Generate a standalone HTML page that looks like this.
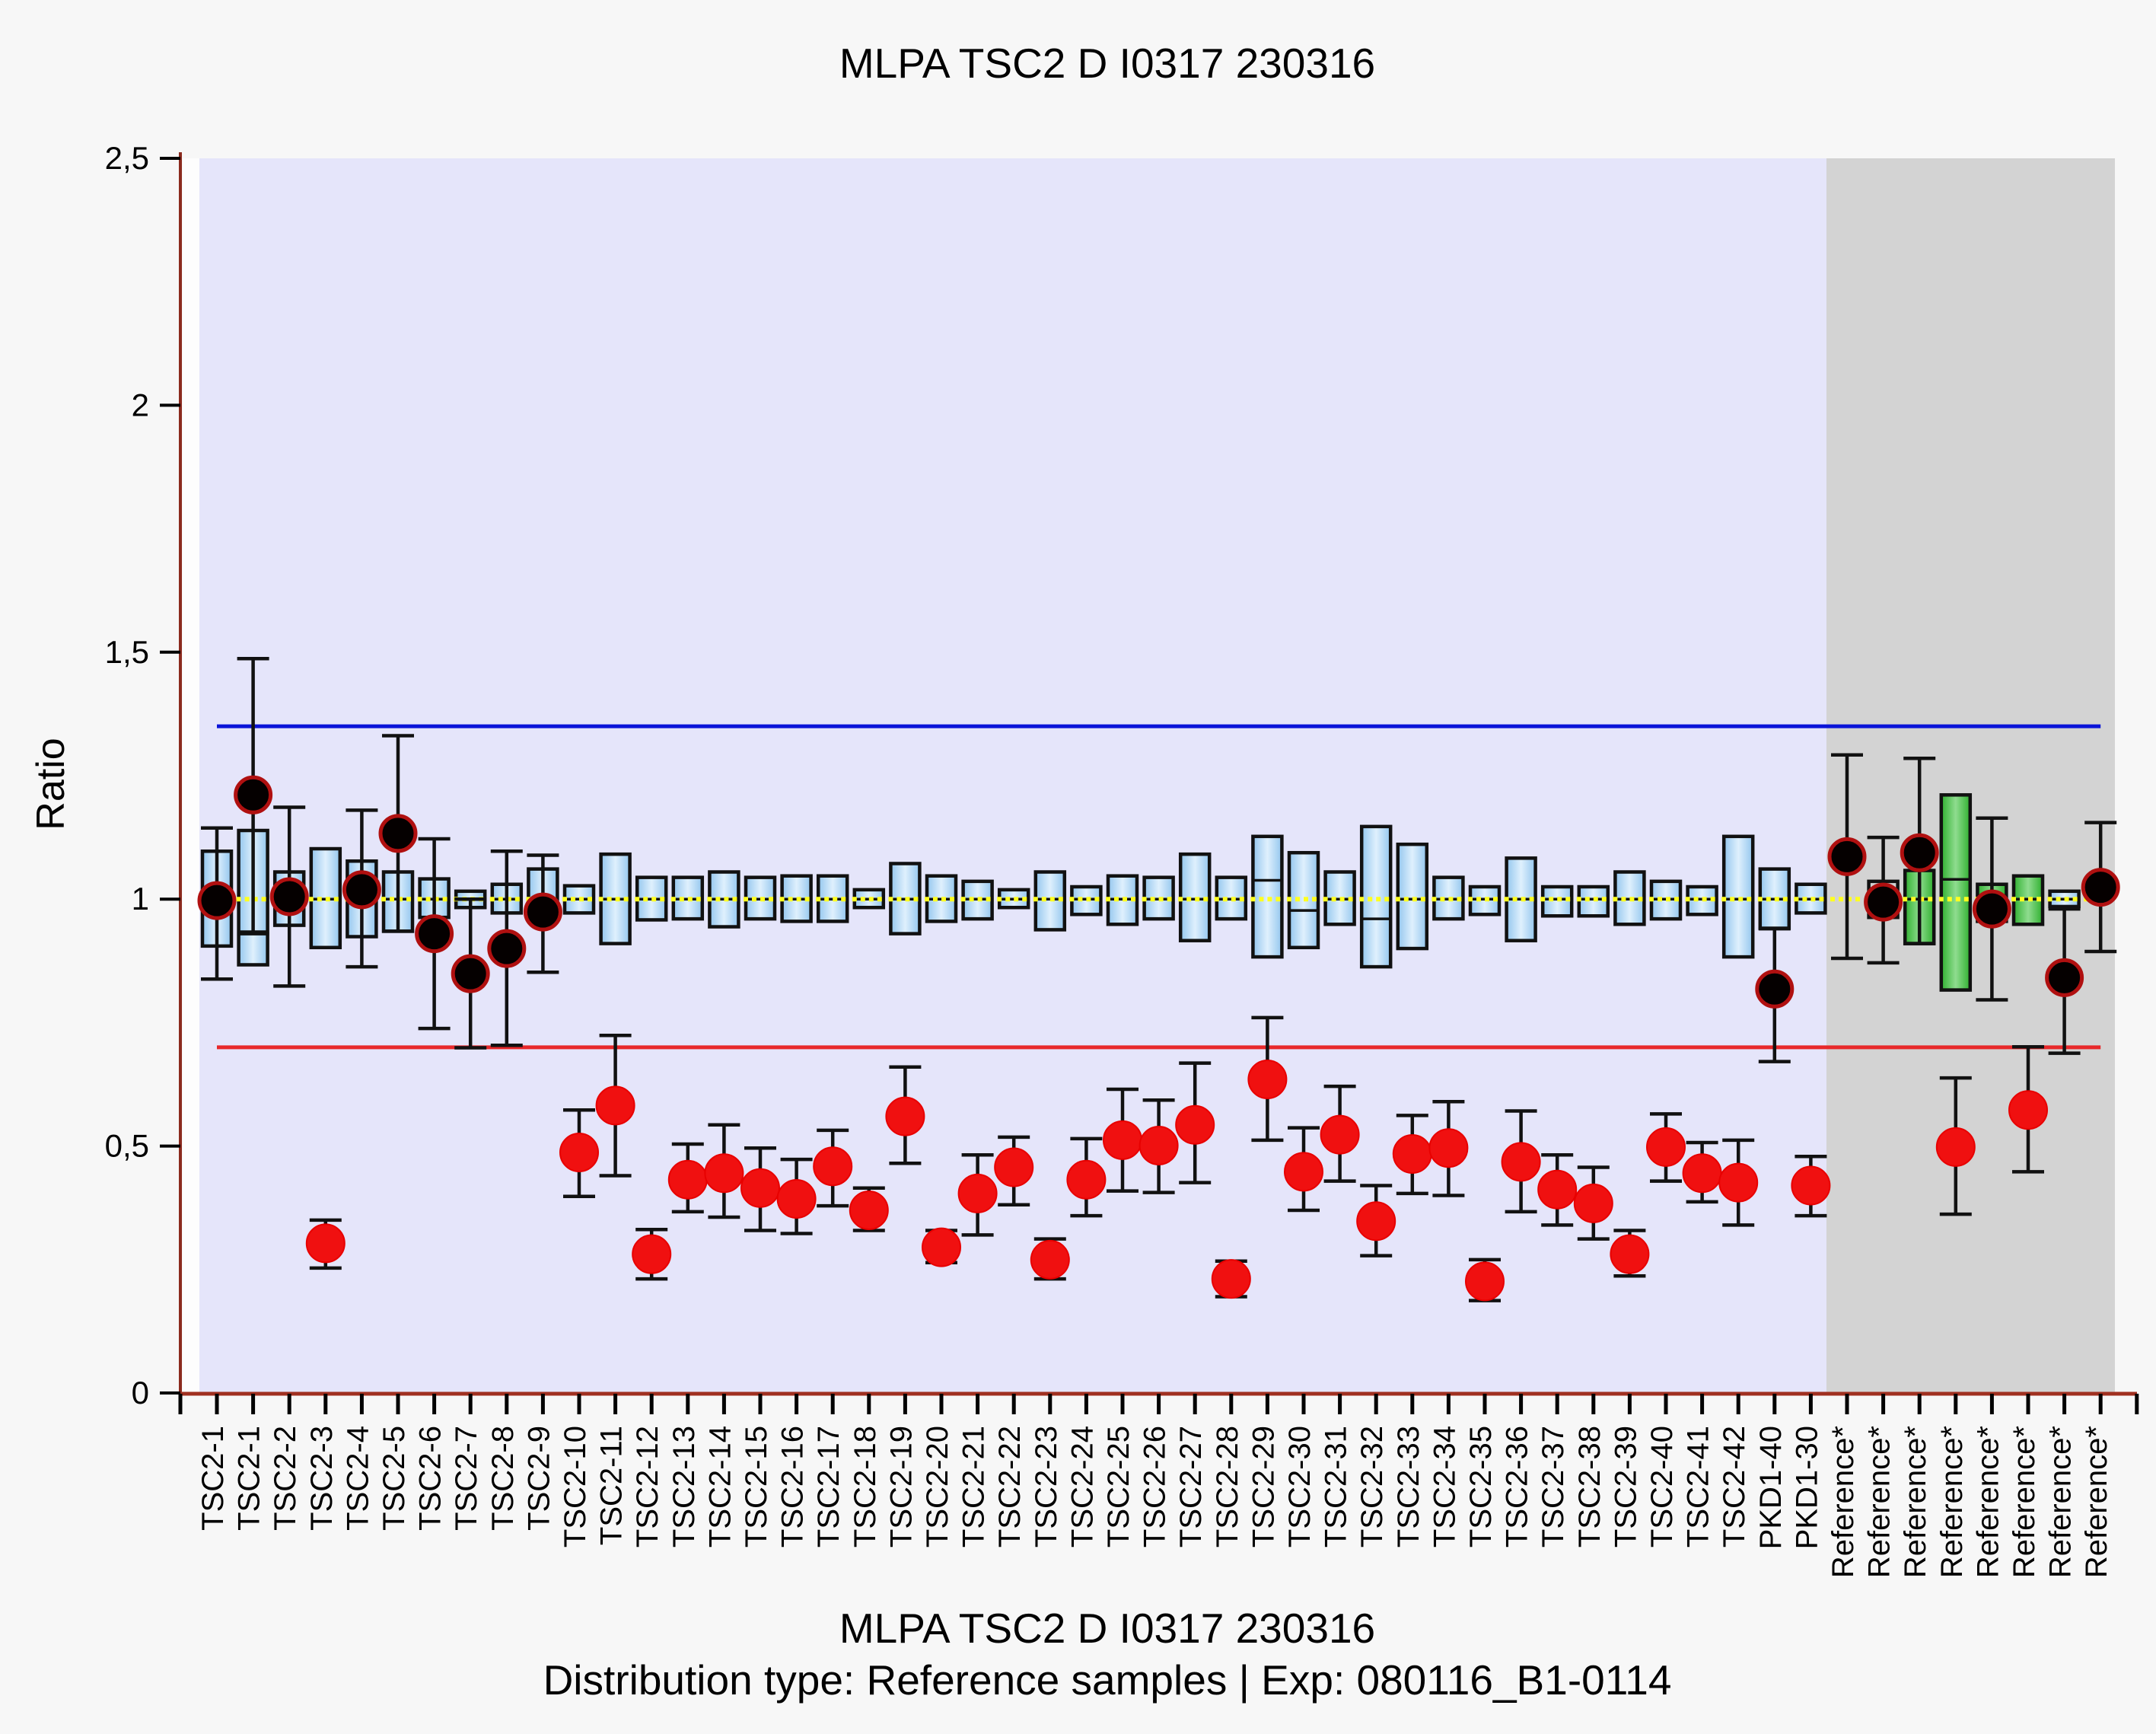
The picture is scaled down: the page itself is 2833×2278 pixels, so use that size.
<!DOCTYPE html>
<html><head><meta charset="utf-8">
<style>
html,body{margin:0;padding:0;background:#f7f7f7;}
svg{display:block;font-family:"Liberation Sans",sans-serif;}
</style></head>
<body>
<svg id="chart" width="2833" height="2278" viewBox="0 0 2833 2278" xmlns="http://www.w3.org/2000/svg">
<defs>
<linearGradient id="gBlue" x1="0" x2="1" y1="0" y2="0"><stop offset="0" stop-color="#93c6ee"/><stop offset="0.5" stop-color="#dff0fd"/><stop offset="1" stop-color="#93c6ee"/></linearGradient>
<linearGradient id="gGreen" x1="0" x2="1" y1="0" y2="0"><stop offset="0" stop-color="#2fb02f"/><stop offset="0.5" stop-color="#8fdc8f"/><stop offset="1" stop-color="#2fb02f"/></linearGradient>
</defs>
<rect x="0" y="0" width="2833" height="2278" fill="#f7f7f7"/>
<text x="1455" y="102" font-size="55" text-anchor="middle" fill="#000">MLPA TSC2 D I0317 230316</text>
<rect x="262" y="208" width="2138" height="1622" fill="#e5e5fa"/>
<rect x="240" y="208" width="22" height="1622" fill="#fdfdfd"/>
<rect x="2400" y="208" width="379" height="1622" fill="#d3d3d3"/>
<g id="yaxis"></g>
<g id="xaxis"></g>
<g id="lines"></g>
<g id="marks"></g>
<text transform="translate(84,1030) rotate(-90)" font-size="52" text-anchor="middle">Ratio</text>
<text x="1455" y="2158" font-size="55" text-anchor="middle">MLPA TSC2 D I0317 230316</text>
<text x="1455" y="2226" font-size="55" text-anchor="middle">Distribution type: Reference samples | Exp: 080116_B1-0114</text>
</svg>
<script>
const categories = ["TSC2-1","TSC2-1","TSC2-2","TSC2-3","TSC2-4","TSC2-5","TSC2-6","TSC2-7","TSC2-8","TSC2-9","TSC2-10","TSC2-11","TSC2-12","TSC2-13","TSC2-14","TSC2-15","TSC2-16","TSC2-17","TSC2-18","TSC2-19","TSC2-20","TSC2-21","TSC2-22","TSC2-23","TSC2-24","TSC2-25","TSC2-26","TSC2-27","TSC2-28","TSC2-29","TSC2-30","TSC2-31","TSC2-32","TSC2-33","TSC2-34","TSC2-35","TSC2-36","TSC2-37","TSC2-38","TSC2-39","TSC2-40","TSC2-41","TSC2-42","PKD1-40","PKD1-30","Reference*","Reference*","Reference*","Reference*","Reference*","Reference*","Reference*","Reference*"];
const ratio = [0.997,1.211,1.005,0.303,1.019,1.133,0.93,0.849,0.9,0.974,0.487,0.582,0.281,0.432,0.445,0.415,0.393,0.459,0.37,0.56,0.295,0.404,0.457,0.27,0.432,0.512,0.501,0.543,0.231,0.635,0.448,0.523,0.348,0.484,0.496,0.226,0.468,0.412,0.384,0.281,0.498,0.445,0.426,0.818,0.42,1.086,0.994,1.094,0.498,0.98,0.573,0.841,1.024];
const errHigh = [1.144,1.487,1.186,0.35,1.18,1.331,1.122,1.0,1.097,1.089,0.573,0.724,0.331,0.504,0.543,0.496,0.473,0.532,0.415,0.66,0.329,0.482,0.518,0.312,0.515,0.615,0.593,0.668,0.267,0.76,0.537,0.621,0.42,0.562,0.59,0.27,0.571,0.482,0.457,0.329,0.565,0.507,0.512,0.94,0.479,1.292,1.125,1.285,0.638,1.164,0.701,0.98,1.155];
const errLow = [0.838,0.93,0.824,0.253,0.863,0.935,0.738,0.699,0.704,0.852,0.398,0.44,0.231,0.367,0.356,0.329,0.323,0.379,0.329,0.465,0.264,0.32,0.381,0.231,0.359,0.409,0.406,0.426,0.195,0.512,0.37,0.429,0.278,0.404,0.4,0.187,0.367,0.34,0.312,0.237,0.429,0.387,0.34,0.671,0.359,0.88,0.871,0.91,0.362,0.796,0.448,0.688,0.894];
const boxHigh = [1.097,1.139,1.055,1.102,1.077,1.055,1.041,1.016,1.03,1.061,1.027,1.091,1.044,1.044,1.055,1.044,1.047,1.047,1.019,1.072,1.047,1.036,1.019,1.055,1.025,1.047,1.044,1.091,1.044,1.127,1.094,1.055,1.147,1.111,1.044,1.025,1.083,1.025,1.025,1.055,1.036,1.025,1.127,1.061,1.03,null,1.036,1.058,1.211,1.03,1.047,1.016,null];
const boxLow = [0.905,0.867,0.947,0.902,0.924,0.935,0.963,0.983,0.972,0.966,0.972,0.91,0.958,0.96,0.944,0.96,0.955,0.955,0.983,0.93,0.955,0.96,0.983,0.938,0.969,0.949,0.96,0.916,0.96,0.883,0.902,0.949,0.863,0.9,0.96,0.969,0.916,0.966,0.966,0.949,0.96,0.969,0.883,0.941,0.972,null,0.963,0.91,0.816,0.955,0.949,0.985,null];
const boxMedian = [1,0.934,1,1,1,1,1,1,1,1,1,1,1,1,1,1,1,1,1,1,1,1,1,1,1,1,1,1,1,1.038,0.977,1,0.96,1,1,1,1,1,1,1,1,1,1,1,1,1,1,1,1.04,1,1,1,1];
const boxKind = ["b","b","b","b","b","b","b","b","b","b","b","b","b","b","b","b","b","b","b","b","b","b","b","b","b","b","b","b","b","b","b","b","b","b","b","b","b","b","b","b","b","b","b","b","b","n","n","g","g","g","g","b","n"];
const yTicks = [0,0.5,1,1.5,2,2.5];
const yTickLabels = ["0","0,5","1","1,5","2","2,5"];
const upperThreshold = 1.35;
const lowerThreshold = 0.7;

const NS="http://www.w3.org/2000/svg";
const Y0=1830, YPER=648.8, X0=285, XSTEP=47.6;
function yS(v){return Y0 - v*YPER;}
function xS(i){return X0 + i*XSTEP;}
function mk(tag, attrs, parent){const e=document.createElementNS(NS,tag);for(const k in attrs)e.setAttribute(k,attrs[k]);parent.appendChild(e);return e;}

const yaxis=document.getElementById('yaxis');
let ax=mk('line',{x1:237,y1:200,x2:237,y2:1834,stroke:'#8b2a1e','stroke-width':4},yaxis);


yTicks.forEach((t,i)=>{
  const tk=mk('line',{x1:210,x2:237,y1:yS(t),y2:yS(t),stroke:'#000','stroke-width':4},yaxis);
  
  
  const lb=mk('text',{x:196,y:yS(t)+14,'font-size':42,'text-anchor':'end'},yaxis);
  lb.textContent=yTickLabels[i];
  
  
});

const xaxis=document.getElementById('xaxis');
let xl=mk('line',{x1:237,y1:1831,x2:2808,y2:1831,stroke:'#a03020','stroke-width':5},xaxis);


for(let i=-1;i<=categories.length;i++){
  const x = i<0?237:xS(i);
  const tk=mk('line',{x1:x,x2:x,y1:1831,y2:1858,stroke:'#000','stroke-width':5},xaxis);
  
  
}
categories.forEach((c,i)=>{
  const t=mk('text',{transform:`translate(${xS(i)+8},1873) rotate(-90)`,'font-size':40,'text-anchor':'end'},xaxis);
  t.textContent=c;
  
  
});

const lines=document.getElementById('lines');
let ub=mk('line',{x1:xS(0),x2:xS(categories.length-1),y1:yS(upperThreshold),y2:yS(upperThreshold),stroke:'#0a14d8','stroke-width':5},lines);


let lbn=mk('line',{x1:xS(0),x2:xS(categories.length-1),y1:yS(lowerThreshold),y2:yS(lowerThreshold),stroke:'#e8282a','stroke-width':5},lines);



const marks=document.getElementById('marks');
categories.forEach((c,i)=>{
  const x=xS(i);
  const g=mk('g',{},marks);
  
  
  if(boxHigh[i]!==null){
    const fill = boxKind[i]==='g'?'url(#gGreen)':(boxKind[i]==='b'?'url(#gBlue)':'none');
    const b=mk('rect',{x:x-19,y:yS(boxHigh[i]),width:38,height:yS(boxLow[i])-yS(boxHigh[i]),fill:fill,stroke:'#111','stroke-width':4.5},g);
    
    
    const m=mk('line',{x1:x-19,x2:x+19,y1:yS(boxMedian[i]),y2:yS(boxMedian[i]),stroke:'#111','stroke-width':3.5},g);
    
    
  }
  const d=mk('line',{x1:x-22,x2:x+22,y1:yS(1),y2:yS(1),stroke:'#ffff20','stroke-width':6,'stroke-dasharray':'6 5'},g);
  
  
  const e=mk('path',{d:`M${x},${yS(errHigh[i])}V${yS(errLow[i])}M${x-21},${yS(errHigh[i])}H${x+21}M${x-21},${yS(errLow[i])}H${x+21}`,stroke:'#111','stroke-width':4.5,fill:'none'},g);
  
  
  const out = ratio[i]<lowerThreshold || ratio[i]>upperThreshold;
  const p=mk('circle',{cx:x,cy:yS(ratio[i]),r:out?25:23,fill:out?'#f01010':'#050000',stroke:out?'#e80000':'#b01010','stroke-width':out?2:5},g);
  
  
});
</script>
</body></html>
